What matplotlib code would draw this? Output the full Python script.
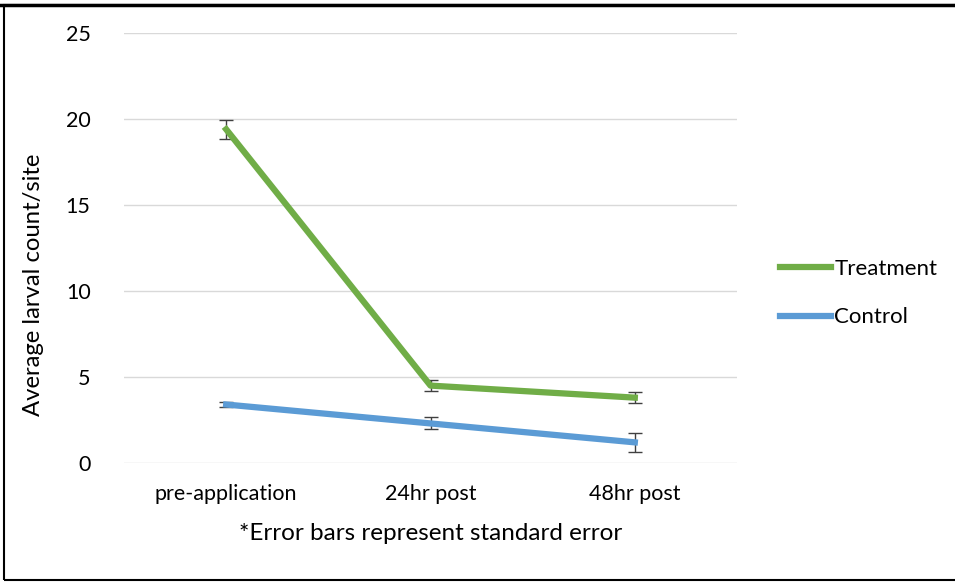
import matplotlib.pyplot as plt
import numpy as np

# data
categories = ['pre-application', '24hr post', '48hr post']
treatment = [19.4, 4.5, 3.8]
treatment_se = [0.55, 0.3, 0.3]
control = [3.4, 2.3, 1.2]
control_se = [0.15, 0.35, 0.55]

plt.rcParams['font.family'] = ['Lato', 'DejaVu Sans']

fig = plt.figure(figsize=(9.55, 5.82), dpi=100)
ax = fig.add_axes([124 / 955, 1 - 463 / 582, (737 - 124) / 955, (463 - 33) / 582])

x = np.arange(len(categories))
ax.errorbar(x, treatment, yerr=treatment_se, color='#70AD47', lw=4.5, ecolor='#404040',
            elinewidth=1, capsize=5, capthick=1, label='Treatment', zorder=3)
ax.errorbar(x, control, yerr=control_se, color='#5B9BD5', lw=4.5, ecolor='#404040',
            elinewidth=1, capsize=5, capthick=1, label='Control', zorder=3)

ax.set_xlim(-0.5, 2.5)
ax.set_ylim(0, 25)
ax.set_yticks([0, 5, 10, 15, 20, 25])
ax.set_xticks(x)
ax.set_xticklabels(categories)
ax.grid(axis='y', color='#D9D9D9', lw=1)
ax.set_axisbelow(True)
for s in ax.spines.values():
    s.set_visible(False)
ax.tick_params(length=0, labelsize=15.5, labelcolor='black')
ax.tick_params(axis='x', pad=15)
ax.tick_params(axis='y', pad=24)

ax.set_ylabel('Average larval count/site', fontsize=17.2)
ax.yaxis.set_label_coords(-0.13, 0.415)
ax.set_xlabel('*Error bars represent standard error', fontsize=17.5, labelpad=14)

handles, labels = ax.get_legend_handles_labels()
handles = [h[0] for h in handles]
leg = fig.legend(handles, labels, loc='center left', bbox_to_anchor=(760 / 955, 1 - 293 / 582),
                 frameon=False, fontsize=16, handlelength=2.3, handletextpad=0.15,
                 labelspacing=1.3)

# outer border of the pasted chart
fig.add_artist(plt.Rectangle((4 / 955, 2 / 582), 1.0, 1 - 7 / 582, transform=fig.transFigure,
                             fill=False, ec='black', lw=1.5))
fig.add_artist(plt.Line2D([0, 1], [1 - 5 / 582, 1 - 5 / 582], transform=fig.transFigure,
                          color='black', lw=2.5))

fig.savefig('out.png', dpi=100)
